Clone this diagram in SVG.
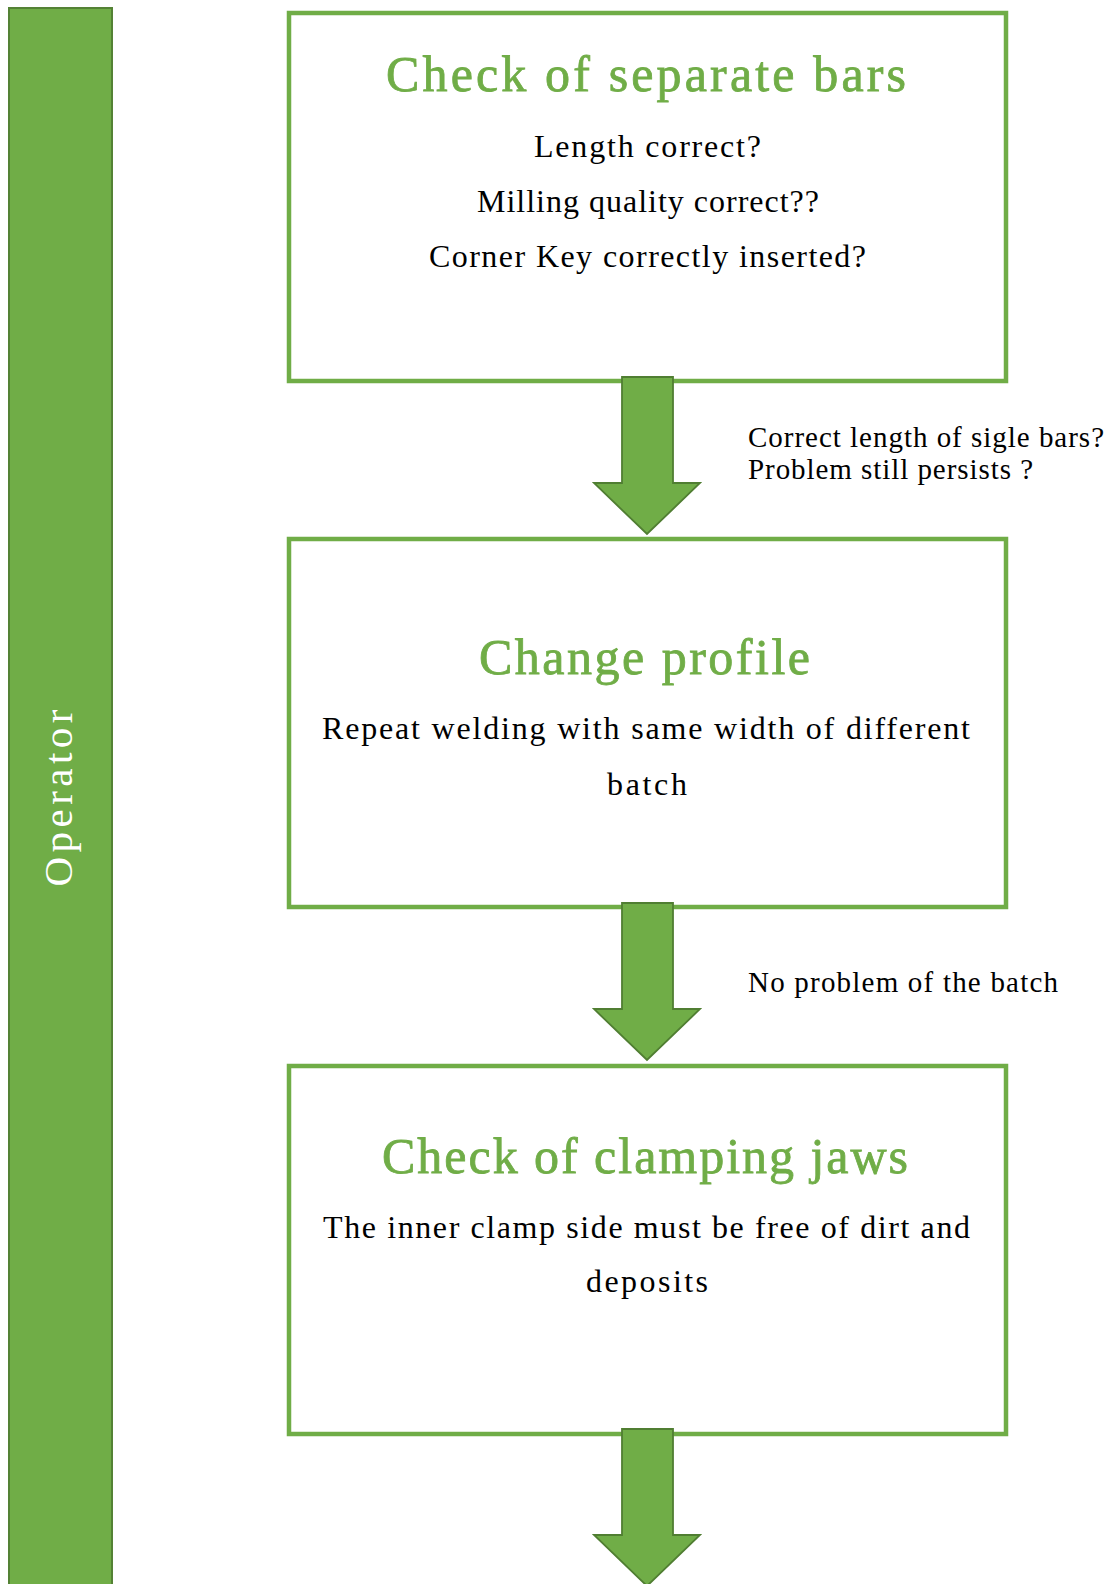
<svg xmlns="http://www.w3.org/2000/svg" width="1112" height="1584" viewBox="0 0 1112 1584">
<style>
.box{fill:#fff;stroke:#70AD47;stroke-width:4.5}
.lane{fill:#70AD47;stroke:#548235;stroke-width:2}
.arrow{fill:#70AD47;stroke:#507E32;stroke-width:1.8;stroke-linejoin:miter}
.title{font-family:"Liberation Serif","Times New Roman",serif;font-size:50px;fill:#70AD47;stroke:#70AD47;stroke-width:0.8;text-anchor:middle}
.body{font-family:"Liberation Serif","Times New Roman",serif;font-size:32px;fill:#000;text-anchor:middle}
.note{font-family:"Liberation Serif","Times New Roman",serif;font-size:29px;fill:#000}
.lanetxt{font-family:"Liberation Serif","Times New Roman",serif;font-size:41px;fill:#fff;text-anchor:middle}
</style>
<rect width="1112" height="1584" fill="#fff"/>
<g id="lane-operator">
<rect class="lane" x="9" y="8" width="103" height="1590"/>
<text class="lanetxt" transform="translate(72,798) rotate(-90)" x="0" y="0" textLength="177">Operator</text>
</g>
<g id="node-check-bars">
<rect class="box" x="289" y="13" width="717" height="368"/>
<text class="title" x="646" y="91" textLength="520">Check of separate bars</text>
<text class="body" x="647.5" y="157" textLength="227">Length correct?</text>
<text class="body" x="648" y="212" textLength="342">Milling quality correct??</text>
<text class="body" x="647.5" y="267" textLength="437">Corner Key correctly inserted?</text>
</g>
<g id="node-change-profile">
<rect class="box" x="289" y="539" width="717" height="368"/>
<text class="title" x="644.5" y="674" textLength="331">Change profile</text>
<text class="body" x="646" y="739" textLength="648">Repeat welding with same width of different</text>
<text class="body" x="647" y="795" textLength="80">batch</text>
</g>
<g id="node-check-jaws">
<rect class="box" x="289" y="1066" width="717" height="368"/>
<text class="title" x="645" y="1173" textLength="526">Check of clamping jaws</text>
<text class="body" x="646.5" y="1238" textLength="647">The inner clamp side must be free of dirt and</text>
<text class="body" x="647" y="1292" textLength="122">deposits</text>
</g>
<g id="connectors">
<path class="arrow" d="M622,377 H673 V483 H700 L647,534 L594,483 H622 Z"/>
<text class="note" x="748" y="447" textLength="356">Correct length of sigle bars?</text>
<text class="note" x="748" y="479" textLength="285">Problem still persists ?</text>
<path class="arrow" d="M622,903 H673 V1009 H700 L647,1060 L594,1009 H622 Z"/>
<text class="note" x="748" y="992" textLength="310">No problem of the batch</text>
<path class="arrow" d="M622,1429 H673 V1535 H700 L647,1586 L594,1535 H622 Z"/>
</g>
</svg>
